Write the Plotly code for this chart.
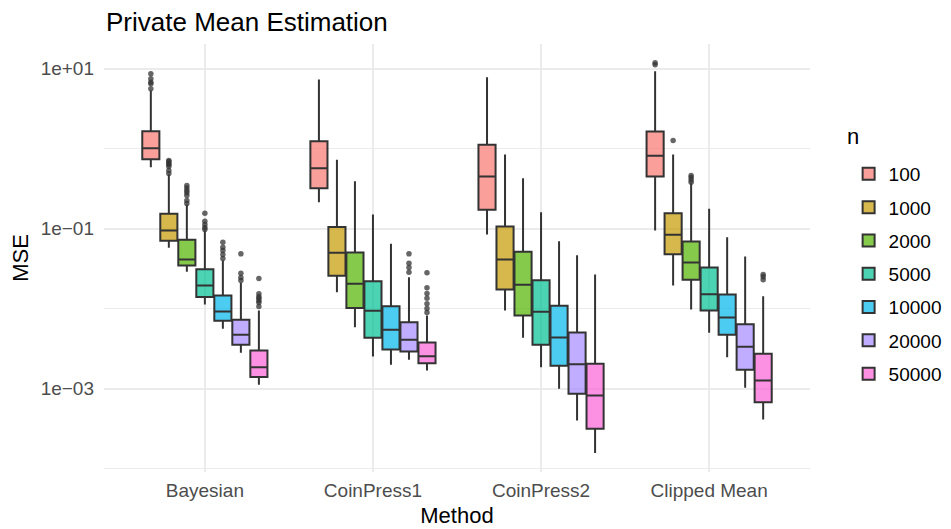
import plotly.graph_objects as go

methods = ["Bayesian", "CoinPress1", "CoinPress2", "Clipped Mean"]
n_levels = ["100", "1000", "2000", "5000", "10000", "20000", "50000"]
colors = ["#F8766D", "#C49A00", "#53B400", "#00C094", "#00B6EB", "#A58AFF", "#FB61D7"]

# per n: values for [Bayesian, CoinPress1, CoinPress2, Clipped Mean]
lower = {
    "100":   [0.589, 0.215, 0.0849, 0.0953],
    "1000":  [0.0579, 0.0161, 0.00953, 0.0195],
    "2000":  [0.029, 0.00589, 0.00434, 0.0098],
    "5000":  [0.0113, 0.00254, 0.00186, 0.00501],
    "10000": [0.00562, 0.002, 0.001, 0.00248],
    "20000": [0.00282, 0.0023, 0.000402, 0.00103],
    "50000": [0.00112, 0.00169, 0.000158, 0.000413],
}
q1 = {
    "100":   [0.741, 0.322, 0.173, 0.451],
    "1000":  [0.0708, 0.0259, 0.0174, 0.0481],
    "2000":  [0.0348, 0.0102, 0.00824, 0.023],
    "5000":  [0.014, 0.00434, 0.00355, 0.00953],
    "10000": [0.00708, 0.0031, 0.00194, 0.00473],
    "20000": [0.00355, 0.00292, 0.000866, 0.00173],
    "50000": [0.0014, 0.00209, 0.000316, 0.00068],
}
median = {
    "100":   [1.017, 0.572, 0.451, 0.818],
    "1000":  [0.0953, 0.0501, 0.0413, 0.0841],
    "2000":  [0.0413, 0.0205, 0.02, 0.0379],
    "5000":  [0.0195, 0.00944, 0.00917, 0.0152],
    "10000": [0.00925, 0.00546, 0.00438, 0.00778],
    "20000": [0.00473, 0.0041, 0.00203, 0.00335],
    "50000": [0.00186, 0.00256, 0.000824, 0.00127],
}
q3 = {
    "100":   [1.66, 1.245, 1.122, 1.644],
    "1000":  [0.154, 0.105, 0.107, 0.157],
    "2000":  [0.0729, 0.0506, 0.0516, 0.0693],
    "5000":  [0.0313, 0.0221, 0.0228, 0.0328],
    "10000": [0.0147, 0.0108, 0.0109, 0.0151],
    "20000": [0.00729, 0.0068, 0.00506, 0.00642],
    "50000": [0.00301, 0.00379, 0.00205, 0.00274],
}
upper = {
    "100":   [5.36, 7.35, 7.85, 9.33],
    "1000":  [0.478, 0.729, 0.849, 0.849],
    "2000":  [0.201, 0.394, 0.429, 0.372],
    "5000":  [0.0953, 0.151, 0.161, 0.178],
    "10000": [0.0402, 0.0649, 0.07, 0.0785],
    "20000": [0.0211, 0.0248, 0.0468, 0.0451],
    "50000": [0.00953, 0.00824, 0.0269, 0.0144],
}
# outliers per n: (method, value)
outlier_method = {
    "100":   ["Bayesian"] * 5 + ["Clipped Mean"] * 2,
    "1000":  ["Bayesian"] * 7 + ["Clipped Mean"],
    "2000":  ["Bayesian"] * 7 + ["Clipped Mean"] * 4,
    "5000":  ["Bayesian"] * 5,
    "10000": ["Bayesian"] * 5,
    "20000": ["Bayesian"] * 4 + ["CoinPress1"] * 4,
    "50000": ["Bayesian"] * 7 + ["CoinPress1"] * 7 + ["Clipped Mean"] * 3,
}
outlier_value = {
    "100":   [8.66, 7.5, 6.8, 6.49, 5.62, 11.9, 11.2],
    "1000":  [0.714, 0.692, 0.655, 0.631, 0.601, 0.536, 0.491, 1.27],
    "2000":  [0.348, 0.324, 0.301, 0.282, 0.261, 0.226, 0.207, 0.463, 0.437, 0.407, 0.382],
    "5000":  [0.157, 0.124, 0.113, 0.104, 0.098],
    "10000": [0.068, 0.0589, 0.0536, 0.0478, 0.0426],
    "20000": [0.0487, 0.0279, 0.0246, 0.0226, 0.0487, 0.0372, 0.0328, 0.0287],
    "50000": [0.0239, 0.0154, 0.0141, 0.0135, 0.0126, 0.012, 0.0107,
              0.0282, 0.0183, 0.0155, 0.0135, 0.0116, 0.0101, 0.009,
              0.0269, 0.0251, 0.023],
}

y_tickvals = [10, 0.1, 0.001]
y_ticktext = ["1e+01", "1e\u221201", "1e\u221203"]
y_minor = [1, 0.01, 0.0001]


def hex_rgba(h, a):
    h = h.lstrip("#")
    return f"rgba({int(h[0:2],16)},{int(h[2:4],16)},{int(h[4:6],16)},{a})"


fig = go.Figure()
for n, col in zip(n_levels, colors):
    fig.add_trace(go.Box(
        x=methods,
        q1=q1[n], median=median[n], q3=q3[n],
        lowerfence=lower[n], upperfence=upper[n],
        name=n, legendgroup=n, offsetgroup=n,
        fillcolor=hex_rgba(col, 0.7),
        line=dict(color="#333333", width=2),
        whiskerwidth=0,
        boxpoints=False,
        hoverinfo="skip",
    ))
for n, col in zip(n_levels, colors):
    fig.add_trace(go.Scatter(
        x=outlier_method[n], y=outlier_value[n],
        mode="markers", name=n, legendgroup=n, offsetgroup=n,
        showlegend=False,
        marker=dict(color="rgba(51,51,51,0.75)", size=5.5),
        hoverinfo="skip",
    ))

W, H = 951, 529
ML, MR, MT, MB = 96, 142, 36, 65
PW = W - ML - MR
PH = H - MT - MB

fig.update_layout(
    width=W, height=H,
    margin=dict(l=ML, r=MR, t=MT, b=MB),
    paper_bgcolor="white", plot_bgcolor="white",
    font=dict(family="Liberation Sans, Arial, sans-serif", color="#000000"),
    title=dict(text="Private Mean Estimation", x=98 / W, xanchor="left",
               y=1 - 5 / H, yanchor="top", pad=dict(t=0, b=0, l=0, r=0),
               font=dict(size=26, color="#000000")),
    boxmode="group", boxgap=0.25, boxgroupgap=0.05,
    scattermode="group", scattergap=0.25,
    legend=dict(
        x=(848 - ML) / PW, xanchor="left", y=(H - MB - 147) / PH, yanchor="top",
        font=dict(size=19, color="#000000"),
        tracegroupgap=5.6,
        bgcolor="rgba(0,0,0,0)",
    ),
    showlegend=True,
    annotations=[dict(
        text="n", xref="paper", yref="paper",
        x=(844 - ML) / PW, xanchor="left",
        y=(H - MB - 128) / PH, yanchor="middle",
        showarrow=False, font=dict(size=22, color="#000000"),
    )],
)
fig.update_xaxes(
    type="category", categoryorder="array", categoryarray=methods,
    title=dict(text="Method", font=dict(size=22, color="#000000"), standoff=7),
    tickfont=dict(size=19, color="#4D4D4D"),
    ticklabelstandoff=5,
    showgrid=True, gridcolor="#EBEBEB", gridwidth=1.6,
    zeroline=False, showline=False, ticks="",
    range=[-0.6, 3.6],
)
fig.update_yaxes(
    type="log",
    title=dict(text="MSE", font=dict(size=22, color="#000000"), standoff=6),
    tickvals=y_tickvals, ticktext=y_ticktext,
    tickfont=dict(size=19, color="#4D4D4D"),
    ticklabelstandoff=9,
    showgrid=True, gridcolor="#EBEBEB", gridwidth=1.6,
    minor=dict(tickvals=y_minor, showgrid=True, gridcolor="#EBEBEB", gridwidth=1.2, ticks=""),
    zeroline=False, showline=False, ticks="",
    range=[-4.04, 1.31],
)

fig.write_html("out.html")
